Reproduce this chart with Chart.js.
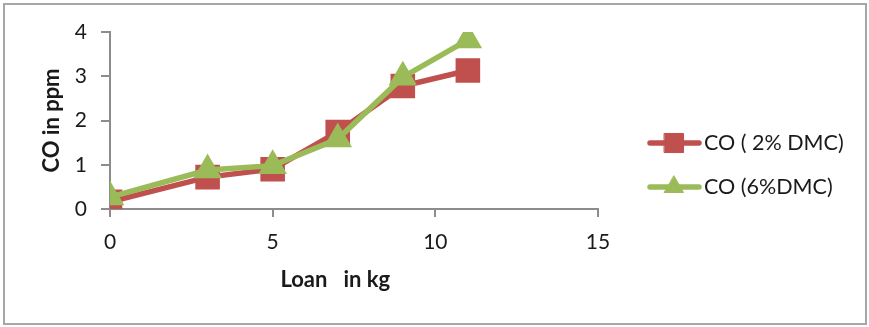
<!DOCTYPE html>
<html>
<head>
<meta charset="utf-8">
<script src="https://cdn.jsdelivr.net/npm/chart.js@4.4.1/dist/chart.umd.min.js"></script>
<style>
  html, body { margin: 0; padding: 0; background: #fff; }
  #wrap { position: relative; width: 869px; height: 327px; }
  #frame { position: absolute; left: 3px; top: 3px; width: 860px; height: 318px; border: 2px solid #a6a6a6; pointer-events: none; }
</style>
</head>
<body>
<div id="wrap">
  <canvas id="chart" width="869" height="327"></canvas>
  <div id="frame"></div>
</div>
<script>
// Data
const loadKg = [0, 3, 5, 7, 9, 11];
const co2 = [0.16, 0.72, 0.9, 1.74, 2.78, 3.13];
const co6 = [0.27, 0.88, 0.98, 1.58, 2.98, 3.82];
const seriesNames = ['CO ( 2% DMC)', 'CO (6%DMC)'];
const xTicks = [0, 5, 10, 15];
const yTicks = [0, 1, 2, 3, 4];

const red = '#c0504d';
const green = '#9bbb59';
const axisGray = '#8c8c8c';
const fontFamily = 'Lato, "Open Sans", sans-serif';

function pairs(xs, ys) {
  return xs.map((x, i) => ({ x: x, y: ys[i] }));
}

// legend drawn on the canvas: line sample with marker, then text
const sideLegend = {
  id: 'sideLegend',
  afterDraw(chart) {
    const ctx = chart.ctx;
    const rows = [143, 187];
    chart.data.datasets.forEach((ds, i) => {
      const y = rows[i];
      ctx.save();
      ctx.strokeStyle = ds.borderColor;
      ctx.lineWidth = ds.borderWidth;
      ctx.lineCap = 'round';
      ctx.beginPath();
      ctx.moveTo(650, y);
      ctx.lineTo(699, y);
      ctx.stroke();
      ctx.fillStyle = ds.pointBackgroundColor;
      ctx.strokeStyle = ds.pointBorderColor;
      ctx.lineWidth = 1;
      Chart.helpers.drawPoint(ctx, {
        pointStyle: ds.pointStyle,
        radius: ds.pointRadius,
        borderWidth: 1
      }, 674, y);
      ctx.fillStyle = '#1a1a1a';
      ctx.font = '21.5px ' + fontFamily;
      ctx.textBaseline = 'middle';
      ctx.fillText(ds.label, 704, y);
      ctx.restore();
    });
  }
};

new Chart(document.getElementById('chart'), {
  type: 'line',
  data: {
    datasets: [{
      label: seriesNames[0],
      data: pairs(loadKg, co2),
      order: 1,
      borderColor: red,
      backgroundColor: red,
      pointBackgroundColor: red,
      pointBorderColor: red,
      pointStyle: 'rect',
      pointRadius: 13.5,
      borderWidth: 5.5,
      tension: 0
    }, {
      label: seriesNames[1],
      data: pairs(loadKg, co6),
      order: 0, // green sits on top of red
      borderColor: green,
      backgroundColor: green,
      pointBackgroundColor: green,
      pointBorderColor: green,
      pointStyle: 'triangle',
      pointRadius: 11,
      borderWidth: 5.5,
      tension: 0
    }]
  },
  options: {
    responsive: false,
    animation: false,
    layout: { padding: { left: 0, top: 32, right: 271, bottom: 0 } },
    plugins: {
      legend: { display: false },
      tooltip: { enabled: false }
    },
    scales: {
      x: {
        type: 'linear',
        min: 0,
        max: 15,
        afterBuildTicks: (axis) => { axis.ticks = xTicks.map(v => ({ value: v })); },
        afterFit: (axis) => { axis.height = 118; },
        grid: { drawOnChartArea: false, drawTicks: true, tickLength: 8, color: axisGray, lineWidth: 2 },
        border: { color: axisGray, width: 2 },
        ticks: { color: '#1a1a1a', font: { family: fontFamily, size: 21 }, padding: 13 },
        // trailing spaces shift the title left of the axis centre, as in the original
        title: { display: true, text: 'Loan   in kg       ', color: '#1a1a1a', font: { family: fontFamily, size: 22, weight: 'bold' }, padding: { top: 35, bottom: 34 } }
      },
      y: {
        min: 0,
        max: 4,
        afterBuildTicks: (axis) => { axis.ticks = yTicks.map(v => ({ value: v })); },
        afterFit: (axis) => { axis.width = 110; },
        grid: { drawOnChartArea: false, drawTicks: true, tickLength: 9, color: axisGray, lineWidth: 2 },
        border: { color: axisGray, width: 2 },
        ticks: { color: '#1a1a1a', font: { family: fontFamily, size: 21 }, padding: 14 },
        title: { display: true, text: 'CO in ppm', color: '#1a1a1a', font: { family: fontFamily, size: 22, weight: 'bold' }, padding: { top: 39, bottom: 39 } }
      }
    }
  },
  plugins: [sideLegend]
});
</script>
</body>
</html>
